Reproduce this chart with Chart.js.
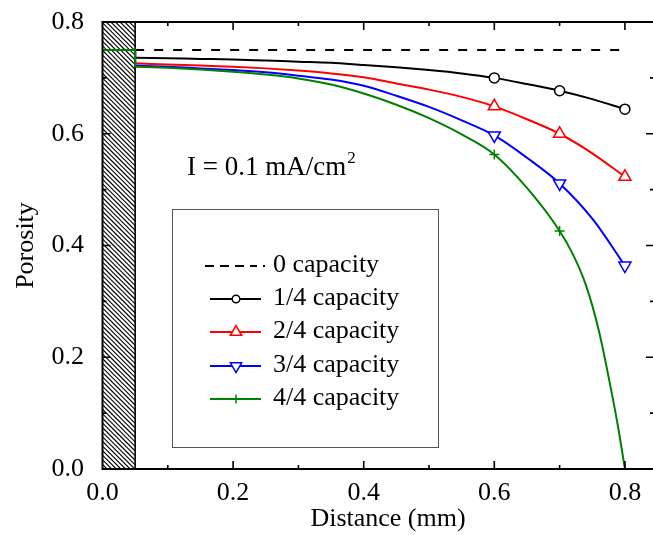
<!DOCTYPE html>
<html>
<head>
<meta charset="utf-8">
<script src="https://cdn.jsdelivr.net/npm/chart.js@4.4.1/dist/chart.umd.min.js"></script>
<style>
html,body{margin:0;padding:0;background:#fff;}
#c{display:block;}
</style>
</head>
<body>
<canvas id="c" width="653" height="535"></canvas>
<script>
// ---- data ----
const distance = [0.05,0.1,0.15,0.2,0.25,0.3,0.35,0.4,0.45,0.5,0.55,0.6,0.65,0.7,0.75,0.8];
const cap1 = [0.736,0.735,0.734,0.733,0.731,0.729,0.727,0.723,0.719,0.714,0.708,0.700,0.689,0.677,0.662,0.644];
const cap2 = [0.726,0.724,0.722,0.720,0.717,0.713,0.708,0.701,0.690,0.679,0.666,0.649,0.626,0.600,0.565,0.523];
const cap3 = [0.722,0.720,0.717,0.714,0.710,0.704,0.697,0.686,0.668,0.648,0.624,0.597,0.557,0.511,0.448,0.364];
const distanceFull = [0.05,0.1,0.15,0.2,0.25,0.3,0.35,0.4,0.45,0.5,0.55,0.6,0.65,0.7,0.72,0.74,0.76,0.78,0.79,0.8];
const cap4 = [0.720,0.718,0.715,0.711,0.706,0.699,0.688,0.672,0.652,0.628,0.599,0.563,0.503,0.426,0.385,0.330,0.248,0.135,0.072,0.0];
const cap0X = [0.05,0.8];
const cap0 = [0.75,0.75];
const initialPorosity = 0.75;
const separatorX = 0.05;
const markerX = [0.6,0.7,0.8];
const xTicks = [0.0,0.2,0.4,0.6,0.8];
const yTicks = [0.0,0.2,0.4,0.6,0.8];
const minorStep = 0.1;
const legendLabels = ['0 capacity','1/4 capacity','2/4 capacity','3/4 capacity','4/4 capacity'];

const FONT = '"Liberation Serif","Times New Roman",serif';
const toXY = (xs, ys) => xs.map((x,i)=>({x:x,y:ys[i]}));
const stepData = (start) => [{x:0,y:initialPorosity},{x:separatorX,y:initialPorosity},{x:separatorX,y:start}];

function curve(label, xs, ys, color, style, rot, radius, order){
  return {
    label: label, data: toXY(xs, ys), borderColor: color, borderWidth: 2,
    cubicInterpolationMode: 'monotone', order: order,
    pointStyle: style, rotation: rot,
    pointRadius: c => (c.raw && markerX.includes(c.raw.x)) ? radius : 0,
    pointHoverRadius: c => (c.raw && markerX.includes(c.raw.x)) ? radius : 0,
    pointBorderColor: color, pointBackgroundColor: '#fff', pointBorderWidth: 1.5
  };
}
function step(color, start, order){
  return {label:'_step', data: stepData(start), borderColor: color, borderWidth: 2,
    tension: 0, pointRadius: 0, order: order};
}

const datasets = [
  {label: legendLabels[0], data: toXY(cap0X, cap0), borderColor:'#000', borderWidth:2,
   borderDash:[9,10], pointRadius:0, order:5, tension:0},
  step('#000', cap1[0], 4), curve(legendLabels[1], distance, cap1, '#000', 'circle', 0, 5, 4),
  step('#ff0000', cap2[0], 3), curve(legendLabels[2], distance, cap2, '#ff0000', 'triangle', 0, 7, 3),
  step('#0000ff', cap3[0], 2), curve(legendLabels[3], distance, cap3, '#0000ff', 'triangle', 180, 7, 2),
  step('#008000', cap4[0], 1), curve(legendLabels[4], distanceFull, cap4, '#008000', 'cross', 0, 5, 1)
];

function marker(ctx, kind, x, y, r, color){
  ctx.save();
  ctx.strokeStyle = color; ctx.fillStyle = '#fff'; ctx.lineWidth = 1.5;
  ctx.beginPath();
  if (kind === 'circle'){ ctx.arc(x,y,r,0,Math.PI*2); ctx.fill(); ctx.stroke(); }
  else if (kind === 'up' || kind === 'down'){
    const s = kind === 'up' ? 1 : -1;
    ctx.moveTo(x, y - s*r);
    ctx.lineTo(x + r*0.866, y + s*r*0.5);
    ctx.lineTo(x - r*0.866, y + s*r*0.5);
    ctx.closePath(); ctx.fill(); ctx.stroke();
  } else if (kind === 'cross'){
    ctx.moveTo(x-r,y); ctx.lineTo(x+r,y); ctx.moveTo(x,y-r); ctx.lineTo(x,y+r); ctx.stroke();
  }
  ctx.restore();
}

const decor = {
  id: 'decor',
  beforeDatasetsDraw(chart){
    const ctx = chart.ctx, xs = chart.scales.x, ys = chart.scales.y, a = chart.chartArea;
    const x0 = xs.getPixelForValue(0), x1 = xs.getPixelForValue(separatorX);
    ctx.save();
    ctx.beginPath(); ctx.rect(x0, a.top, x1-x0, a.bottom-a.top); ctx.clip();
    ctx.strokeStyle = '#000'; ctx.lineWidth = 1.1;
    const h = a.bottom - a.top;
    ctx.beginPath();
    for (let d = -h; d < (x1-x0)+5; d += 4.6){
      ctx.moveTo(x0 + d, a.top); ctx.lineTo(x0 + d + h, a.bottom);
    }
    ctx.stroke();
    ctx.restore();
    ctx.save();
    ctx.strokeStyle = '#000'; ctx.lineWidth = 1.6;
    ctx.beginPath(); ctx.moveTo(x1, a.top); ctx.lineTo(x1, a.bottom); ctx.stroke();
    ctx.restore();
  },
  afterDatasetsDraw(chart){
    const ctx = chart.ctx, xs = chart.scales.x, ys = chart.scales.y, a = chart.chartArea;
    ctx.save();
    ctx.strokeStyle = '#000'; ctx.lineWidth = 2;
    ctx.beginPath();
    ctx.moveTo(a.left, a.top); ctx.lineTo(a.right+2, a.top);
    ctx.moveTo(a.left, a.top-1); ctx.lineTo(a.left, a.bottom+1);
    ctx.moveTo(a.left-1, a.bottom); ctx.lineTo(a.right+2, a.bottom);
    ctx.stroke();
    ctx.lineWidth = 1.6;
    ctx.beginPath();
    const rightEdge = a.right + 1;
    for (let k = 1; k <= 8; k++){
      const v = k*minorStep;
      const L = (k % 2 === 0) ? 8 : 4;
      const px = xs.getPixelForValue(v);
      ctx.moveTo(px, a.bottom); ctx.lineTo(px, a.bottom - L);
      ctx.moveTo(px, a.top); ctx.lineTo(px, a.top + L);
    }
    for (let k = 1; k < 8; k++){
      const v = k*minorStep;
      const L = (k % 2 === 0) ? 8 : 4;
      const py = ys.getPixelForValue(v);
      ctx.moveTo(a.left, py); ctx.lineTo(a.left + L, py);
      ctx.moveTo(rightEdge, py); ctx.lineTo(rightEdge - L, py);
    }
    ctx.stroke();
    ctx.fillStyle = '#000';
    ctx.font = '26px ' + FONT;
    ctx.textAlign = 'center'; ctx.textBaseline = 'middle';
    xTicks.forEach(v => ctx.fillText(v.toFixed(1), xs.getPixelForValue(v), 493));
    ctx.textAlign = 'right';
    yTicks.forEach(v => ctx.fillText(v.toFixed(1), 84, ys.getPixelForValue(v)));
    ctx.textAlign = 'center';
    ctx.fillText('Distance (mm)', 388, 519);
    ctx.save();
    ctx.translate(26, (a.top + a.bottom)/2);
    ctx.rotate(-Math.PI/2);
    ctx.fillText('Porosity', 0, 0);
    ctx.restore();
    ctx.textAlign = 'left'; ctx.textBaseline = 'alphabetic';
    ctx.font = '27px ' + FONT;
    const ann = 'I = 0.1 mA/cm';
    ctx.fillText(ann, 187, 175);
    const w = ctx.measureText(ann).width;
    ctx.font = '17px ' + FONT;
    ctx.fillText('2', 187 + w + 1, 163);
    ctx.lineWidth = 1; ctx.strokeStyle = '#555';
    ctx.strokeRect(172.5, 209.5, 266, 238);
    const rows = [265, 298, 331, 365, 398];
    const cols = ['#000','#000','#ff0000','#0000ff','#008000'];
    const kinds = [null,'circle','up','down','cross'];
    const radii = [0,3.8,6.5,6.5,4.5];
    ctx.font = '26px ' + FONT; ctx.textBaseline = 'middle'; ctx.fillStyle = '#000';
    rows.forEach((y, i) => {
      ctx.save();
      ctx.strokeStyle = cols[i]; ctx.lineWidth = 2;
      ctx.beginPath();
      if (i === 0){
        ctx.setLineDash([9,6]);
        ctx.moveTo(205, y+1); ctx.lineTo(257, y+1); ctx.stroke();
        ctx.setLineDash([]);
        ctx.beginPath(); ctx.moveTo(263, y+1); ctx.lineTo(265, y+1); ctx.stroke();
      } else {
        ctx.moveTo(210, y+1); ctx.lineTo(261, y+1); ctx.stroke();
      }
      ctx.restore();
      if (kinds[i]) marker(ctx, kinds[i], 236, y+1, radii[i], cols[i]);
      ctx.fillText(legendLabels[i], 273, y);
    });
    ctx.restore();
  }
};

new Chart(document.getElementById('c'), {
  type: 'line',
  data: { datasets: datasets },
  options: {
    responsive: false, animation: false, devicePixelRatio: 1,
    layout: { autoPadding: false, padding: { left: 102.5, right: 0, top: 22, bottom: 66 } },
    plugins: { legend: { display: false }, tooltip: { enabled: false } },
    scales: {
      x: { type: 'linear', min: 0, max: 0.843, display: false },
      y: { type: 'linear', min: 0, max: 0.8, display: false }
    }
  },
  plugins: [decor]
});
</script>
</body>
</html>
